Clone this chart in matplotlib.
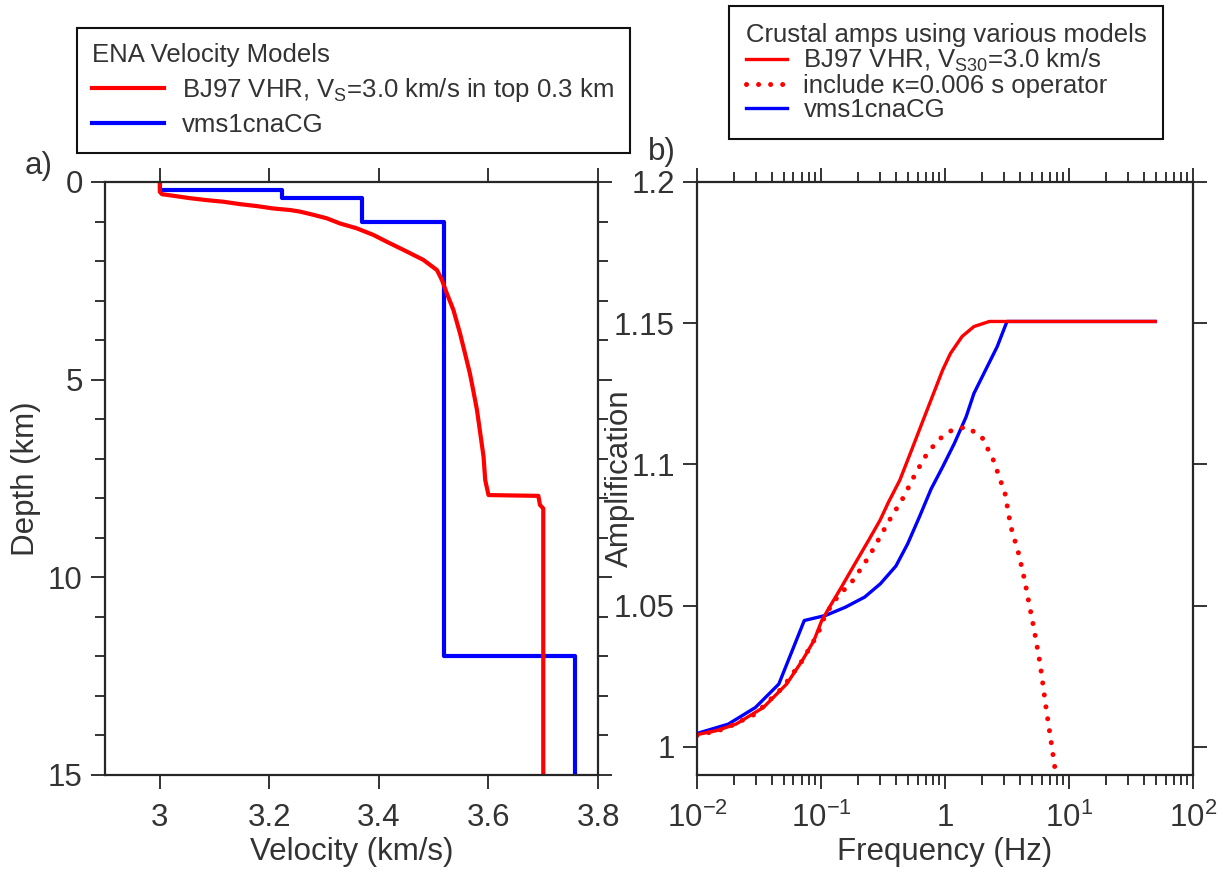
import matplotlib
matplotlib.use("Agg")
import matplotlib.pyplot as plt
from matplotlib.ticker import MultipleLocator, FixedLocator, LogLocator, FuncFormatter, NullFormatter

plt.rcParams['font.family'] = ['Liberation Sans', 'DejaVu Sans']
plt.rcParams['mathtext.fontset'] = 'custom'
plt.rcParams['mathtext.rm'] = 'Liberation Sans'
plt.rcParams['mathtext.it'] = 'Liberation Sans:italic'
plt.rcParams['mathtext.default'] = 'regular'
TXT = '#333333'
plt.rcParams['text.color'] = TXT
plt.rcParams['axes.labelcolor'] = TXT
plt.rcParams['xtick.color'] = TXT
plt.rcParams['ytick.color'] = TXT

# %% Data - panel a: velocity models (depth in km, velocity in km/s)
bj97_vel = [3.0, 3.0, 3.004, 3.025, 3.055, 3.086, 3.116, 3.146, 3.177, 3.207, 3.238,
            3.256, 3.280, 3.305, 3.329, 3.359, 3.390, 3.414, 3.445, 3.481, 3.506,
            3.515, 3.524, 3.536, 3.548, 3.557, 3.566, 3.572, 3.579, 3.585, 3.591,
            3.594, 3.600, 3.691, 3.694, 3.700, 3.700]
bj97_depth = [0.0, 0.25, 0.31, 0.35, 0.41, 0.46, 0.50, 0.56, 0.61, 0.67, 0.71,
              0.75, 0.83, 0.92, 1.05, 1.17, 1.34, 1.51, 1.72, 1.97, 2.23,
              2.48, 2.82, 3.24, 3.83, 4.33, 4.84, 5.26, 5.77, 6.36, 6.95,
              7.54, 7.92, 7.94, 8.17, 8.26, 15.0]

vms_vel = [3.0, 3.0, 3.223, 3.223, 3.369, 3.369, 3.519, 3.519, 3.758, 3.758]
vms_depth = [0.0, 0.2, 0.2, 0.4, 0.4, 1.0, 1.0, 12.0, 12.0, 15.0]

# %% Data - panel b: crustal amplifications
bj97_freq = [0.01, 0.01436, 0.0206, 0.0343, 0.0528, 0.0706, 0.0877, 0.1014, 0.117,
             0.146, 0.181, 0.242, 0.30, 0.35, 0.432, 0.537, 0.667, 0.828, 0.957,
             1.107, 1.374, 1.71, 2.28, 49.5]
bj97_amp = [1.0043, 1.0057, 1.008, 1.0139, 1.0222, 1.0305, 1.0376, 1.0447, 1.0494,
            1.0565, 1.0636, 1.0731, 1.0803, 1.0866, 1.0944, 1.105, 1.1157, 1.1263, 1.1334,
            1.1393, 1.1453, 1.1488, 1.1506, 1.1506]

kappa_freq = [0.01, 0.0166, 0.0296, 0.0492, 0.0706, 0.0944, 0.109, 0.1355, 0.181,
              0.242, 0.301, 0.348, 0.465, 0.577, 0.716, 0.891, 1.107, 1.479, 1.977,
              2.455, 3.05, 3.39, 3.93, 4.39, 4.71, 5.25, 5.85, 6.52, 7.28, 7.82]
kappa_amp = [1.004, 1.0063, 1.0116, 1.021, 1.0305, 1.040, 1.047, 1.053, 1.0589,
             1.0671, 1.0745, 1.0795, 1.0885, 1.0967, 1.1038, 1.1088, 1.1118, 1.1133, 1.1098,
             1.1015, 1.0896, 1.078, 1.0683, 1.0589, 1.0518, 1.0411, 1.0293, 1.0139, 0.9998, 0.9903]

vms_freq = [0.01, 0.01786, 0.0296, 0.0457, 0.0733, 0.109, 0.157, 0.225, 0.301, 0.402,
            0.499, 0.619, 0.771, 0.957, 1.189, 1.479, 1.71, 2.123, 2.636, 3.16, 49.5]
vms_amp = [1.0047, 1.008, 1.0139, 1.0222, 1.0447, 1.0465, 1.0494, 1.053, 1.0577, 1.0640,
           1.0718, 1.0812, 1.0912, 1.0991, 1.1074, 1.1168, 1.1251, 1.1334, 1.1417, 1.1506, 1.1506]

vel_ticks = [3.0, 3.2, 3.4, 3.6, 3.8]
amp_ticks = [1.0, 1.05, 1.1, 1.15, 1.2]
freq_ticks = [0.01, 0.1, 1, 10, 100]
freq_labels = [r'10$^{-2}$', r'10$^{-1}$', '1', r'10$^{1}$', r'10$^{2}$']

# %% Figure
fig = plt.figure(figsize=(12.23, 8.74), dpi=100)
FS = 22.5
LFS = 18.5

def style_axes(ax):
    for s in ax.spines.values():
        s.set_linewidth(1.6)
        s.set_color('#262626')
    ax.tick_params(which='both', direction='out', width=1.4, labelsize=FS,
                   top=True, right=True, pad=6)
    ax.tick_params(axis='x', which='both', pad=10)
    ax.tick_params(which='major', length=10)
    ax.tick_params(which='minor', length=7)

# Panel a
ax1 = fig.add_axes([0.0859, 0.1133, 0.4031, 0.6785])
ax1.plot(vms_vel, vms_depth, color='#0000ff', lw=3, label='vms1cnaCG')
ax1.plot(bj97_vel, bj97_depth, color='#ff0000', lw=3,
         label='BJ97 VHR, V$_S$=3.0 km/s in top 0.3 km')
ax1.set_xlim(2.9, 3.8)
ax1.set_ylim(15, 0)
ax1.xaxis.set_major_locator(FixedLocator(vel_ticks))
ax1.xaxis.set_major_formatter(FuncFormatter(lambda v, p: '%g' % v))
ax1.yaxis.set_major_locator(MultipleLocator(5))
ax1.yaxis.set_minor_locator(MultipleLocator(1))
style_axes(ax1)
ax1.set_xlabel('Velocity (km/s)', fontsize=FS)
ax1.set_ylabel('Depth (km)', fontsize=FS)
ax1.xaxis.set_label_coords(0.5, -0.105)
ax1.yaxis.set_label_coords(-0.13, 0.5)
ax1.text(-0.134, 1.027, 'a)', transform=ax1.transAxes, fontsize=FS, ha='center', va='center')

h1, l1 = ax1.get_legend_handles_labels()
fig.legend(h1[::-1], l1[::-1], title='ENA Velocity Models', loc='upper left',
           bbox_to_anchor=(0.063, 0.968), fontsize=LFS, title_fontsize=LFS,
           alignment='left', fancybox=False, edgecolor='#111111', framealpha=1,
           handlelength=2.8, handletextpad=0.7, labelspacing=0.35,
           borderpad=0.6, borderaxespad=0).get_frame().set_linewidth(1.5)

# Panel b
ax2 = fig.add_axes([0.5699, 0.1133, 0.4056, 0.6785])
ax2.plot(vms_freq, vms_amp, color='#0000ff', lw=2.4, label='vms1cnaCG')
ax2.plot(kappa_freq, kappa_amp, color='#ff0000', lw=3.6, linestyle=(0, (0.01, 2.4)),
         dash_capstyle='round', label='include \u03ba=0.006 s operator')
ax2.plot(bj97_freq, bj97_amp, color='#ff0000', lw=2.4,
         label='BJ97 VHR, V$_{S30}$=3.0 km/s')
ax2.set_xscale('log')
ax2.set_xlim(0.01, 100)
ax2.set_ylim(0.99, 1.2)
ax2.xaxis.set_major_locator(FixedLocator(freq_ticks))
ax2.xaxis.set_major_formatter(FuncFormatter(lambda v, p: freq_labels[p] if p is not None and p < len(freq_labels) else ''))
ax2.xaxis.set_minor_locator(LogLocator(base=10, subs=range(2, 10)))
ax2.xaxis.set_minor_formatter(NullFormatter())
ax2.yaxis.set_major_locator(FixedLocator(amp_ticks))
ax2.yaxis.set_major_formatter(FuncFormatter(lambda v, p: '%g' % round(v, 2)))
style_axes(ax2)
ax2.set_xlabel('Frequency (Hz)', fontsize=FS)
ax2.set_ylabel('Amplification', fontsize=FS)
ax2.xaxis.set_label_coords(0.5, -0.105)
ax2.yaxis.set_label_coords(-0.125, 0.5)
ax2.text(-0.07, 1.05, 'b)', transform=ax2.transAxes, fontsize=FS, ha='center', va='center')

h2, l2 = ax2.get_legend_handles_labels()
fig.legend(h2[::-1], l2[::-1], title='Crustal amps using various models', loc='upper left',
           bbox_to_anchor=(0.596, 0.993), fontsize=LFS, title_fontsize=LFS,
           alignment='left', fancybox=False, edgecolor='#111111', framealpha=1,
           handlelength=1.6, handletextpad=0.65, labelspacing=0.0,
           borderpad=0.65, borderaxespad=0).get_frame().set_linewidth(1.5)

fig.savefig('out.png', dpi=100)
